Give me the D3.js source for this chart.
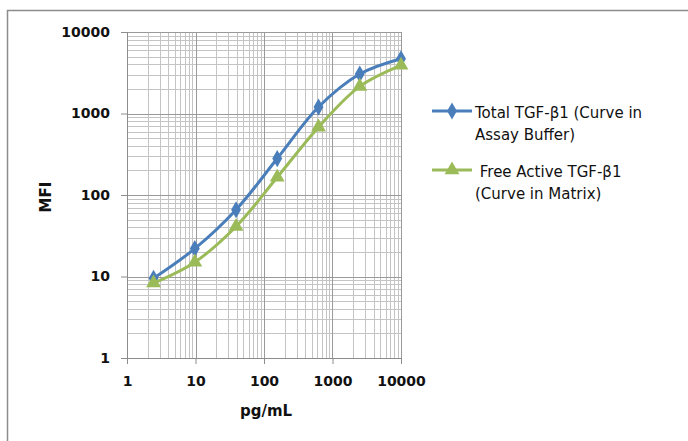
<!DOCTYPE html>
<html>
<head>
<meta charset="utf-8">
<script src="https://cdn.jsdelivr.net/npm/d3@7"></script>
<style>
  body { margin: 0; background: #fff; }
  svg { display: block; }
  .tick text { font-family: "DejaVu Sans", sans-serif; font-weight: bold; font-size: 14px; fill: #111; }
</style>
</head>
<body>
<div id="chart"></div>
<script>
// concentrations, pg/mL (4-fold dilution series)
const concentrations = [2.44, 9.77, 39.1, 156, 625, 2500, 10000];
const totalMfi = [9.5, 22, 66, 280, 1200, 3050, 4700];
const freeMfi = [8.3, 15, 41, 165, 680, 2150, 3900];
const tickValues = [1, 10, 100, 1000, 10000];
const seriesNames = [
  ['Total TGF-β1 (Curve in', 'Assay Buffer)'],
  [' Free Active TGF-β1', '(Curve in Matrix)']
];

const svgWidth = 688;
const svgHeight = 441;
const plot = { left: 127, right: 401, top: 32, bottom: 358 };

const svg = d3.select('#chart').append('svg')
  .attr('width', svgWidth)
  .attr('height', svgHeight);

// outer frame (top and left edges only visible)
svg.append('path')
  .attr('d', `M7.5,${svgHeight} V10.5 H${svgWidth}`)
  .attr('fill', 'none')
  .attr('stroke', '#8c8c8c')
  .attr('stroke-width', 1.5);

const x = d3.scaleLog().domain([1, 10000]).range([plot.left, plot.right]);
const y = d3.scaleLog().domain([1, 10000]).range([plot.bottom, plot.top]);

// grid lines
const minors = [];
for (let d = 1; d < 10000; d *= 10) {
  for (let k = 2; k <= 9; k++) minors.push(d * k);
}

const grid = svg.append('g');
grid.selectAll('.vminor').data(minors).join('line')
  .attr('x1', d => Math.round(x(d)) + 0.5)
  .attr('x2', d => Math.round(x(d)) + 0.5)
  .attr('y1', plot.top).attr('y2', plot.bottom)
  .attr('stroke', '#c4c4c4');
grid.selectAll('.hminor').data(minors).join('line')
  .attr('y1', d => Math.round(y(d)) + 0.5)
  .attr('y2', d => Math.round(y(d)) + 0.5)
  .attr('x1', plot.left).attr('x2', plot.right)
  .attr('stroke', '#c4c4c4');
grid.selectAll('.vmajor').data(tickValues).join('line')
  .attr('x1', d => Math.round(x(d)) + 0.5)
  .attr('x2', d => Math.round(x(d)) + 0.5)
  .attr('y1', plot.top).attr('y2', plot.bottom)
  .attr('stroke', '#9a9a9a');
grid.selectAll('.hmajor').data(tickValues).join('line')
  .attr('y1', d => Math.round(y(d)) + 0.5)
  .attr('y2', d => Math.round(y(d)) + 0.5)
  .attr('x1', plot.left).attr('x2', plot.right)
  .attr('stroke', '#9a9a9a');

// axes
const xAxis = svg.append('g')
  .attr('transform', `translate(0,${plot.bottom})`)
  .call(d3.axisBottom(x).tickValues(tickValues).tickFormat(d3.format('d')).tickSize(6).tickPadding(12));
const yAxis = svg.append('g')
  .attr('transform', `translate(${plot.left},0)`)
  .call(d3.axisLeft(y).tickValues(tickValues).tickFormat(d3.format('d')).tickSize(6).tickPadding(11));

[xAxis, yAxis].forEach(a => {
  a.select('.domain').attr('stroke', '#8c8c8c');
  a.selectAll('.tick line').attr('stroke', '#8c8c8c');
});

// axis titles
svg.append('text')
  .attr('x', 266).attr('y', 416)
  .attr('text-anchor', 'middle')
  .style('font-family', '"DejaVu Sans", sans-serif')
  .style('font-weight', 'bold')
  .style('font-size', '15px')
  .attr('fill', '#111')
  .text('pg/mL');
svg.append('text')
  .attr('transform', 'translate(51,197) rotate(-90)')
  .attr('text-anchor', 'middle')
  .style('font-family', '"DejaVu Sans", sans-serif')
  .style('font-weight', 'bold')
  .style('font-size', '15px')
  .attr('fill', '#111')
  .text('MFI');

// series
const line = d3.line()
  .x(d => x(d[0]))
  .y(d => y(d[1]))
  .curve(d3.curveCatmullRom.alpha(0.5));

const series = [
  { values: totalMfi, color: '#4a7ebb', symbol: d3.symbolDiamond, size: 85 },
  { values: freeMfi, color: '#9bbb59', symbol: d3.symbolTriangle, size: 95 }
];

series.forEach(s => {
  const pts = concentrations.map((c, i) => [c, s.values[i]]);
  svg.append('path')
    .datum(pts)
    .attr('fill', 'none')
    .attr('stroke', s.color)
    .attr('stroke-width', 3)
    .attr('stroke-linejoin', 'round')
    .attr('d', line);
  svg.append('g').selectAll('path').data(pts).join('path')
    .attr('transform', d => `translate(${x(d[0])},${y(d[1])})`)
    .attr('d', d3.symbol().type(s.symbol).size(s.size))
    .attr('fill', s.color);
});

// legend
const legendY = [111, 170];
series.forEach((s, i) => {
  const g = svg.append('g').attr('transform', `translate(432,${legendY[i]})`);
  g.append('line')
    .attr('x1', 0).attr('x2', 40)
    .attr('stroke', s.color).attr('stroke-width', 3);
  g.append('path')
    .attr('transform', 'translate(20,0)')
    .attr('d', d3.symbol().type(s.symbol).size(s.size))
    .attr('fill', s.color);
  g.append('text')
    .style('font-family', '"DejaVu Sans", sans-serif')
    .style('font-size', '15px')
    .attr('fill', '#111')
    .selectAll('tspan').data(seriesNames[i]).join('tspan')
    .attr('x', 43)
    .attr('y', (d, j) => 7 + j * 22)
    .attr('xml:space', 'preserve')
    .text(d => d);
});
</script>
</body>
</html>
